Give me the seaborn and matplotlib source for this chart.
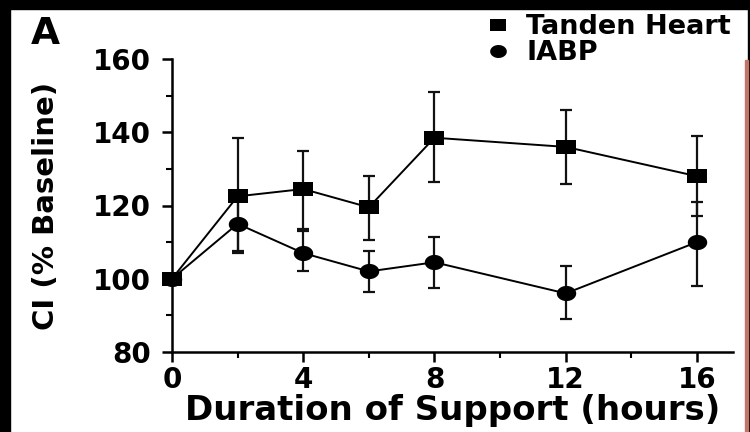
import numpy as np
import pandas as pd
import matplotlib
matplotlib.use("Agg")
import matplotlib.pyplot as plt
import seaborn as sns
from matplotlib.lines import Line2D
from matplotlib.patches import Rectangle
from matplotlib.ticker import MultipleLocator

# ---- data ----
hours = [0, 2, 4, 6, 8, 12, 16]
tanden = [100, 122.5, 124.5, 119.5, 138.5, 136, 128]
tanden_err_lo = [0, 15, 11, 9, 12, 10, 11]
tanden_err_hi = [0, 16, 10.5, 8.5, 12.5, 10, 11]
iabp = [100, 115, 107, 102, 104.5, 96, 110]
iabp_err_lo = [0, 8, 5, 5.5, 7, 7, 12]
iabp_err_hi = [0, 8, 6, 5.5, 7, 7.5, 11]
series_labels = ["Tanden Heart", "IABP"]
x_ticks = [0, 4, 8, 12, 16]
y_ticks = [80, 100, 120, 140, 160]

sns.set_theme(style="ticks")
plt.rcParams['font.family'] = ['DejaVu Sans']
plt.rcParams['font.weight'] = 'bold'
plt.rcParams['text.color'] = 'black'
plt.rcParams['axes.labelcolor'] = 'black'

fig = plt.figure(figsize=(7.5, 4.32), dpi=100)
fig.patch.set_facecolor("white")
ax = fig.add_axes([172 / 750, 80 / 432, 561 / 750, 293 / 432])
ax.set_facecolor("white")

# wide marker shapes (reference is stretched horizontally)
sq = [(-1, -0.72), (1, -0.72), (1, 0.72), (-1, 0.72), (-1, -0.72)]
th = np.linspace(0, 2 * np.pi, 48)
ell = list(zip(np.cos(th), 0.78 * np.sin(th)))

df = pd.DataFrame({"hours": hours, "tanden": tanden, "iabp": iabp})

# error bars
ax.errorbar(hours[1:], tanden[1:], yerr=[tanden_err_lo[1:], tanden_err_hi[1:]],
            fmt="none", ecolor="#111111", elinewidth=1.6, capsize=4.5,
            capthick=1.6, zorder=2, clip_on=False)
ax.errorbar(hours[1:], iabp[1:], yerr=[iabp_err_lo[1:], iabp_err_hi[1:]],
            fmt="none", ecolor="#111111", elinewidth=1.6, capsize=4.5,
            capthick=1.6, zorder=2, clip_on=False)

sns.lineplot(data=df, x="hours", y="tanden", ax=ax, color="black", lw=1.4,
             marker=sq, markersize=14, markeredgewidth=0, clip_on=False, zorder=4)
sns.lineplot(data=df, x="hours", y="iabp", ax=ax, color="black", lw=1.4,
             marker=ell, markersize=14, markeredgewidth=0, clip_on=False, zorder=4)

ax.set_xlim(0, 17.1)
ax.set_ylim(80, 160)
ax.set_xticks(x_ticks)
ax.set_yticks(y_ticks)
ax.xaxis.set_minor_locator(MultipleLocator(2))
ax.yaxis.set_minor_locator(MultipleLocator(10))
for s in ["top", "right"]:
    ax.spines[s].set_visible(False)
for s in ["left", "bottom"]:
    ax.spines[s].set_linewidth(1.8)
    ax.spines[s].set_color("black")

ax.tick_params(axis="both", which="major", length=7, width=1.8, direction="out",
               labelsize=20, colors="black")
ax.tick_params(axis="both", which="minor", length=4, width=1.5, direction="out",
               colors="black")
ax.tick_params(axis="y", which="major", pad=8)
ax.tick_params(axis="x", which="major", pad=3)
for lab in ax.get_xticklabels() + ax.get_yticklabels():
    lab.set_fontweight("bold")

ax.set_xlabel("Duration of Support (hours)", fontsize=24.5, fontweight="bold", color="black")
ax.set_ylabel("CI (% Baseline)", fontsize=21, fontweight="bold", color="black")
ax.xaxis.set_label_coords(0.5, (352 - 394) / 293)
ax.yaxis.set_label_coords((60 - 172) / 561, 0.5)

handles = [Line2D([], [], marker=sq, color="black", ls="none", markersize=12, markeredgewidth=0),
           Line2D([], [], marker=ell, color="black", ls="none", markersize=12, markeredgewidth=0)]
leg = ax.legend(handles, series_labels, loc="upper left",
                bbox_to_anchor=(480 / 750, 1 - 14 / 432), bbox_transform=fig.transFigure,
                frameon=False, fontsize=19.5, handlelength=1.3, handletextpad=0.4,
                labelspacing=0.0, borderpad=0, borderaxespad=0)
for t in leg.get_texts():
    t.set_fontweight("bold")
    t.set_color("black")

fig.text(45 / 750, 1 - 34 / 432, "A", fontsize=27, fontweight="bold",
         ha="center", va="center", color="black")

# black frame / strip around the screenshot
fig.patches.append(Rectangle((0, 1 - 9 / 432), 1, 9 / 432, transform=fig.transFigure,
                             color="black", zorder=10))
fig.patches.append(Rectangle((0, 0), 10 / 750, 1, transform=fig.transFigure,
                             color="black", zorder=10))
fig.patches.append(Rectangle((748 / 750, 0), 2 / 750, 1, transform=fig.transFigure,
                             color="black", zorder=10))
fig.patches.append(Rectangle((745 / 750, 0), 3 / 750, (432 - 60) / 432,
                             transform=fig.transFigure, color="#c27566", zorder=10))

fig.savefig("out.png", dpi=100)
